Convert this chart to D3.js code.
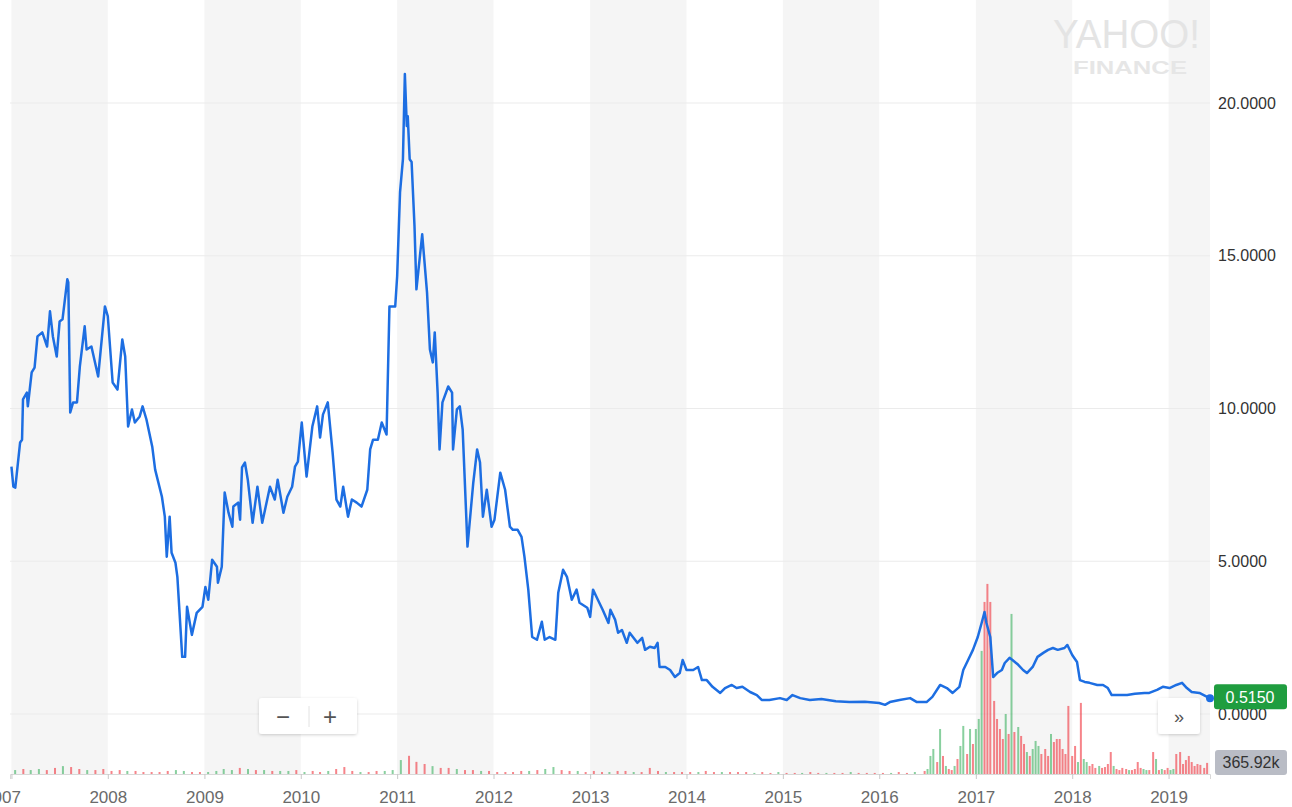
<!DOCTYPE html>
<html><head><meta charset="utf-8">
<script src="https://cdn.jsdelivr.net/npm/d3@7"></script>
<style>
html,body{margin:0;padding:0;background:#fff;overflow:hidden;}
svg{display:block;font-family:"Helvetica Neue",Helvetica,Arial,"Liberation Sans",sans-serif;}
</style></head><body>
<svg id="chart" width="1292" height="807"></svg>
<script>
// ---------- DATA ----------
const priceDates = [2007.00,2007.02,2007.04,2007.09,2007.11,2007.12,2007.16,2007.17,2007.21,2007.24,2007.27,2007.32,2007.37,2007.40,2007.43,2007.47,2007.50,2007.53,2007.58,2007.59,2007.61,2007.64,2007.68,2007.71,2007.76,2007.78,2007.83,2007.90,2007.97,
2008.00,2008.05,2008.10,2008.15,2008.18,2008.21,2008.25,2008.28,2008.33,2008.36,2008.40,2008.46,2008.49,2008.56,2008.59,2008.61,2008.64,2008.66,2008.70,2008.72,2008.77,2008.80,2008.82,2008.87,2008.92,2008.98,
2009.01,2009.04,2009.08,2009.13,2009.14,2009.18,2009.21,2009.25,2009.29,2009.30,2009.35,2009.37,2009.39,2009.42,2009.45,2009.50,2009.55,2009.60,2009.68,2009.73,2009.76,2009.82,2009.86,2009.91,2009.94,2009.97,
2010.01,2010.06,2010.12,2010.17,2010.20,2010.23,2010.28,2010.33,2010.37,2010.41,2010.44,2010.49,2010.53,2010.58,2010.63,2010.69,2010.72,2010.75,2010.80,2010.84,2010.89,2010.92,2010.98,
2011.00,2011.03,2011.06,2011.08,2011.10,2011.11,2011.13,2011.15,2011.18,2011.20,2011.26,2011.31,2011.34,2011.37,2011.39,2011.42,2011.44,2011.47,2011.53,2011.57,2011.58,2011.62,2011.65,2011.68,2011.73,2011.79,2011.83,2011.86,2011.89,2011.93,2011.98,
2012.01,2012.07,2012.12,2012.17,2012.20,2012.25,2012.29,2012.32,2012.36,2012.40,2012.45,2012.50,2012.53,2012.58,2012.64,2012.67,2012.72,2012.76,2012.81,2012.86,2012.89,2012.97,
2013.00,2013.03,2013.08,2013.13,2013.19,2013.21,2013.26,2013.29,2013.33,2013.38,2013.41,2013.49,2013.54,2013.57,2013.62,2013.67,2013.70,2013.72,2013.78,2013.83,2013.88,2013.93,2013.96,
2014.00,2014.07,2014.12,2014.16,2014.21,2014.27,2014.35,2014.40,2014.47,2014.52,2014.58,2014.66,2014.73,2014.78,2014.86,2014.97,
2015.04,2015.10,2015.18,2015.28,2015.40,2015.55,2015.69,2015.85,
2016.00,2016.06,2016.11,2016.21,2016.32,2016.39,2016.49,2016.55,2016.63,2016.70,2016.76,2016.83,2016.87,2016.92,2016.97,
2017.02,2017.06,2017.09,2017.11,2017.15,2017.18,2017.22,2017.27,2017.30,2017.35,2017.38,2017.44,2017.49,2017.53,2017.59,2017.64,2017.70,2017.75,2017.80,2017.85,2017.92,2017.95,
2018.00,2018.05,2018.08,2018.13,2018.18,2018.26,2018.32,2018.37,2018.41,2018.47,2018.57,2018.65,2018.75,2018.80,2018.88,2018.94,
2019.01,2019.08,2019.14,2019.19,2019.24,2019.32,2019.43];

const prices = [8.10,7.44,7.41,8.89,8.98,10.30,10.52,10.07,11.18,11.34,12.36,12.49,12.03,13.18,12.36,11.70,12.85,12.92,14.23,14.13,9.87,10.20,10.20,11.38,12.69,11.93,12.03,11.05,13.34,
13.02,10.85,10.62,12.26,11.70,9.41,9.97,9.54,9.74,10.07,9.64,8.75,8.00,7.11,6.46,5.15,6.46,5.28,4.95,4.49,1.87,1.87,3.51,2.59,3.31,3.51,
4.16,3.74,5.05,4.82,4.30,4.82,7.25,6.59,6.13,6.79,6.92,6.36,8.07,8.23,7.67,6.26,7.44,6.26,7.44,7.02,7.67,6.59,7.11,7.44,8.10,8.26,
9.54,7.77,9.41,10.07,9.05,9.80,10.20,8.56,7.02,6.79,7.44,6.46,7.02,6.92,6.79,7.34,8.66,8.98,8.98,9.54,9.15,13.34,13.34,
14.33,17.08,18.16,20.95,19.25,19.57,18.16,18.07,15.97,13.90,15.70,13.80,11.93,11.51,12.49,10.52,8.66,10.20,10.72,10.52,8.66,9.97,10.07,9.31,5.48,7.57,8.66,8.23,6.46,7.34,6.13,
6.36,7.90,7.34,6.13,6.03,6.03,5.80,5.15,4.07,2.52,2.43,3.02,2.43,2.52,2.43,3.97,4.72,4.49,3.74,4.07,3.64,3.48,
3.18,4.07,3.74,3.41,2.98,3.41,3.08,2.66,2.75,2.33,2.66,2.33,2.49,2.10,2.20,2.16,2.33,1.54,1.54,1.44,1.21,1.34,1.77,
1.44,1.44,1.54,1.11,1.11,0.89,0.69,0.85,0.95,0.85,0.89,0.72,0.62,0.46,0.46,0.52,
0.46,0.62,0.52,0.46,0.49,0.42,0.39,0.40,
0.36,0.30,0.39,0.46,0.52,0.39,0.39,0.56,0.95,0.85,0.69,0.89,1.44,1.77,2.10,
2.52,2.98,3.34,2.98,2.52,1.21,1.34,1.44,1.67,1.84,1.77,1.61,1.44,1.34,1.54,1.87,2.00,2.10,2.16,2.10,2.16,2.26,
1.93,1.70,1.11,1.05,1.02,0.95,0.95,0.85,0.62,0.62,0.62,0.66,0.69,0.69,0.79,0.89,
0.85,0.95,1.02,0.85,0.72,0.69,0.515];

const yTicks = [0, 5, 10, 15, 20];
const yearTicks = [2007,2008,2009,2010,2011,2012,2013,2014,2015,2016,2017,2018,2019];

// monthly volume (thousands) Jan 2007 .. May 2016
const volMonthStart = "2007-01";
const volMonthly = [130,165,130,165,130,200,260,230,165,130,130,165,
100,130,100,100,65,65,65,100,130,100,65,65,
65,100,165,130,200,165,130,130,100,100,100,130,
65,100,65,100,165,230,100,65,65,100,100,130,
460,600,400,330,260,200,200,165,130,130,100,100,
65,65,65,100,100,130,165,230,130,100,100,65,
100,65,65,100,100,65,65,200,100,65,65,65,
65,65,100,65,65,65,65,65,35,65,35,65,
35,35,35,65,35,35,35,35,65,35,35,35,
35,35,65,35,65];
const volMonthlyDir = "GRGGRRGRRGRR"+"RRGRRRRRGGRR"+"GGGGRGRGRGGR"+"GRRGRRRGRRGG"+"GRRRGRRGRRGR"+"RRRRGRGGRRGR"+"RRGRRGRRRGRR"+"RGRRGRRRGRRG"+"RRGRRGRRGRRR"+"RGRRG";

// detailed volume (thousands) mid 2016 .. 2019
const volDates = [2016.47,2016.50,2016.53,2016.56,2016.60,2016.63,2016.66,2016.69,2016.72,2016.75,2016.78,2016.81,2016.84,2016.87,2016.91,2016.94,2016.97,
2017.00,2017.03,2017.06,2017.09,2017.12,2017.15,2017.19,2017.22,2017.25,2017.28,2017.31,2017.34,2017.37,2017.40,2017.44,2017.47,2017.50,2017.53,2017.56,2017.59,2017.62,2017.65,2017.68,2017.72,2017.75,2017.78,2017.81,2017.84,2017.87,2017.90,2017.93,2017.96,
2018.00,2018.03,2018.06,2018.09,2018.12,2018.15,2018.18,2018.21,2018.24,2018.28,2018.31,2018.34,2018.37,2018.40,2018.43,2018.46,2018.49,2018.52,2018.56,2018.59,2018.62,2018.65,2018.68,2018.71,2018.74,2018.77,2018.80,2018.84,2018.87,2018.90,2018.93,2018.96,2018.99,
2019.02,2019.05,2019.08,2019.12,2019.15,2019.18,2019.21,2019.24,2019.27,2019.30,2019.33,2019.37,2019.40];
const volValues = [100,165,595,825,395,1485,595,265,165,130,265,495,925,1585,660,1485,990,
1485,1815,4060,5675,6270,5675,2410,1815,1485,1155,1980,1320,5280,1385,1550,1255,990,725,595,825,1090,925,660,825,595,1320,1055,1155,1155,825,660,
2245,595,925,395,2345,495,395,265,330,200,265,200,230,330,725,265,165,130,200,165,130,130,165,395,200,165,130,130,725,495,130,165,130,200,130,165,
660,725,330,460,595,395,265,330,300,200,366];
const volDir = "RGGGRGRGRRGRGGRGR"+"GGGRRRRRRRGRGRGRRGRGGGRRRGRRRRRR"+"RRGRGGRRRGRRRRGRRRRGRRRRGGRRGRGRR"+"GGRRRRRRRRR";

const lastPrice = 0.515;
const lastVolumeLabel = "365.92k";

// ---------- CHART ----------
const W = 1292, H = 807;
const left = 10, right = 1210;
const svg = d3.select("#chart");

function decYear(t) {
  const y = Math.floor(t);
  const s = new Date(y, 0, 1), e = new Date(y + 1, 0, 1);
  return new Date(+s + (t - y) * (e - s));
}

const x = d3.scaleTime().domain([decYear(2006.985), decYear(2019.43)]).range([left, right]);
const y = d3.scaleLinear().domain([0, 20]).range([714, 103]);
const volBase = 774;
const yv = d3.scaleLinear().domain([0, 6300]).range([volBase, 583]);

// alternating year bands
const bands = svg.append("g");
for (let yr = 2006; yr <= 2019; yr++) {
  if (yr % 2 === 0) continue;
  const x0 = Math.max(left, x(new Date(yr, 0, 1)));
  const x1 = Math.min(right, x(new Date(yr + 1, 0, 1)));
  if (x1 > x0) bands.append("rect").attr("x", x0).attr("y", 0).attr("width", x1 - x0).attr("height", volBase).attr("fill", "#f5f5f5");
}

// horizontal gridlines
svg.append("g").selectAll("line").data(yTicks).join("line")
  .attr("x1", left).attr("x2", right)
  .attr("y1", d => y(d)).attr("y2", d => y(d))
  .attr("stroke", "#ebebeb").attr("stroke-width", 1);

// Yahoo watermark
svg.append("text").attr("x", 1053).attr("y", 48).attr("font-size", 40)
  .attr("textLength", 147).attr("lengthAdjust", "spacingAndGlyphs")
  .attr("fill", "#e4e4e4").text("YAHOO!");
svg.append("text").attr("x", 1073).attr("y", 74).attr("font-size", 18).attr("font-weight", "bold")
  .attr("textLength", 114).attr("lengthAdjust", "spacingAndGlyphs")
  .attr("fill", "#e6e6e6").text("FINANCE");

// volume bars
const monthStart = d3.timeParse("%Y-%m")(volMonthStart);
const volData = volMonthly.map((v, i) => ({
  date: d3.timeDay.offset(d3.timeMonth.offset(monthStart, i), 14), v, dir: volMonthlyDir[i]
})).concat(volValues.map((v, i) => ({ date: decYear(volDates[i]), v, dir: volDir[i] })));
const colG = "rgba(40,170,80,0.55)", colR = "rgba(240,50,60,0.6)";
svg.append("g").selectAll("rect").data(volData).join("rect")
  .attr("x", d => x(d.date) - 1).attr("width", 2)
  .attr("y", d => yv(d.v)).attr("height", d => volBase - yv(d.v))
  .attr("fill", d => d.dir === "G" ? colG : colR);

// price line
const pts = priceDates.map((t, i) => ({ date: decYear(t), v: prices[i] }));
const line = d3.line().x(d => x(d.date)).y(d => y(d.v));
svg.append("path").datum(pts).attr("d", line)
  .attr("fill", "none").attr("stroke", "#1d6ee2").attr("stroke-width", 2.5)
  .attr("stroke-linejoin", "round");

// x axis
const xAxis = d3.axisBottom(x)
  .tickValues(yearTicks.map(yr => new Date(yr, 0, 1)))
  .tickFormat(d3.timeFormat("%Y")).tickSize(5).tickPadding(12);
const gx = svg.append("g").attr("transform", `translate(0,${volBase})`).call(xAxis);
gx.select(".domain").attr("stroke", "#d8d8d8");
gx.selectAll(".tick line").attr("stroke", "#c8c8c8");
gx.selectAll(".tick text").attr("fill", "#6a6a6a").attr("font-size", 17)
  .attr("font-family", "\"Helvetica Neue\",Helvetica,Arial,\"Liberation Sans\",sans-serif");
gx.selectAll(".tick").filter(d => d.getFullYear() === 2007).select("text")
  .attr("text-anchor", "end").attr("dx", 9);

// y axis (right)
const yAxis = d3.axisRight(y).tickValues(yTicks).tickFormat(d3.format(".4f")).tickSize(0).tickPadding(0);
const gy = svg.append("g").attr("transform", "translate(1218,0)").call(yAxis);
gy.select(".domain").remove();
gy.selectAll(".tick text").attr("fill", "#333").attr("font-size", 16)
  .attr("font-family", "\"Helvetica Neue\",Helvetica,Arial,\"Liberation Sans\",sans-serif");

// last price marker & label
const lastPt = pts[pts.length - 1];
svg.append("circle").attr("cx", x(lastPt.date)).attr("cy", y(lastPt.v)).attr("r", 4).attr("fill", "#1d6ee2");
const ly = y(lastPrice);
svg.append("rect").attr("x", 1214).attr("y", ly - 14).attr("width", 73).attr("height", 25).attr("rx", 3).attr("fill", "#1f9d3f");
svg.append("text").attr("x", 1250).attr("y", ly + 5).attr("text-anchor", "middle")
  .attr("font-size", 16).attr("fill", "#fff").text(d3.format(".4f")(lastPrice));

// last volume label
svg.append("rect").attr("x", 1215).attr("y", 750).attr("width", 72).attr("height", 25).attr("rx", 3).attr("fill", "#b9bcc5");
svg.append("text").attr("x", 1251).attr("y", 768).attr("text-anchor", "middle")
  .attr("font-size", 16).attr("fill", "#333").text(lastVolumeLabel);

// zoom buttons
const defs = svg.append("defs");
const f = defs.append("filter").attr("id", "sh").attr("x", "-20%").attr("y", "-20%").attr("width", "140%").attr("height", "160%");
f.append("feDropShadow").attr("dx", 0).attr("dy", 1).attr("stdDeviation", 1.5).attr("flood-color", "#000").attr("flood-opacity", 0.18);
const zb = svg.append("g");
zb.append("rect").attr("x", 259).attr("y", 698).attr("width", 98).attr("height", 36).attr("rx", 3)
  .attr("fill", "#fff").attr("filter", "url(#sh)");
zb.append("line").attr("x1", 309).attr("x2", 309).attr("y1", 706).attr("y2", 727).attr("stroke", "#e2e2e2");
zb.append("text").attr("x", 283).attr("y", 725).attr("text-anchor", "middle").attr("font-size", 24).attr("fill", "#555").text("\u2212");
zb.append("text").attr("x", 330).attr("y", 725).attr("text-anchor", "middle").attr("font-size", 24).attr("fill", "#555").text("+");
zb.append("rect").attr("x", 1158).attr("y", 698).attr("width", 42).attr("height", 36).attr("rx", 3)
  .attr("fill", "#fff").attr("filter", "url(#sh)");
zb.append("text").attr("x", 1179).attr("y", 723).attr("text-anchor", "middle").attr("font-size", 18).attr("fill", "#555").text("\u00bb");
</script>
</body></html>
